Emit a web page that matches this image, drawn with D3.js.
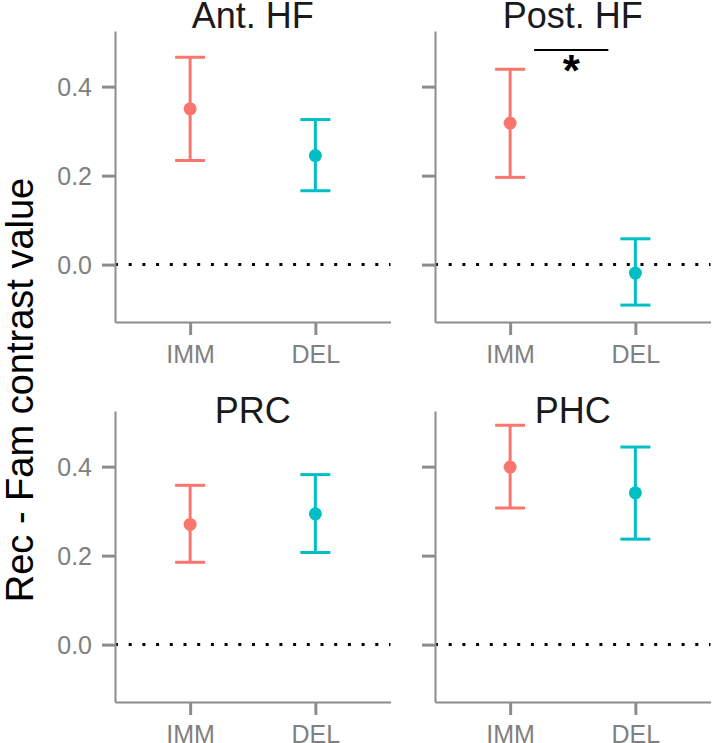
<!DOCTYPE html>
<html>
<head>
<meta charset="utf-8">
<script src="https://cdn.jsdelivr.net/npm/d3@7"></script>
<style>
  html, body { margin: 0; padding: 0; background: #fff; }
  svg { display: block; font-family: "Liberation Sans", Arial, Helvetica, sans-serif; }
</style>
</head>
<body>
<svg id="chart" width="712" height="743"></svg>
<script>
// ---- data ----
const panels = ["Ant. HF", "Post. HF", "PRC", "PHC"];
const groups = ["IMM", "DEL"];
const groupColors = ["#F8766D", "#00BFC4"];
const means = [[0.350, 0.245], [0.318, -0.019], [0.270, 0.294], [0.399, 0.341]];
const lowers = [[0.234, 0.166], [0.196, -0.091], [0.185, 0.207], [0.307, 0.237]];
const uppers = [[0.466, 0.326], [0.439, 0.058], [0.358, 0.382], [0.493, 0.444]];
const yTicks = [0.0, 0.2, 0.4];
const yDomain = [-0.129, 0.525];
const yLabel = "Rec - Fam contrast value";
const sigPanel = 1;
const sigMark = "*";

// ---- layout ----
const svg = d3.select("#chart");
const colX = [115, 435];
const rowY = [31, 411];
const pw = 275.5, ph = 291;
const grey = "#8c8c8c";

panels.forEach((name, i) => {
  const col = i % 2, row = Math.floor(i / 2);
  const g = svg.append("g").attr("transform", `translate(${colX[col]},${rowY[row]})`);
  const x = d3.scalePoint().domain(groups).range([0, pw]).padding(0.6);
  const y = d3.scaleLinear().domain(yDomain).range([ph, 0]);

  // zero reference dotted line
  g.append("line")
    .attr("x1", 0).attr("x2", pw)
    .attr("y1", y(0)).attr("y2", y(0))
    .attr("stroke", "#000").attr("stroke-width", 3)
    .attr("stroke-dasharray", "3,10.7");

  // y axis
  const ya = g.append("g").call(
    d3.axisLeft(y).tickValues(yTicks).tickSize(13).tickSizeOuter(0)
      .tickPadding(10)
      .tickFormat(col === 0 ? d3.format(".1f") : () => "")
  );
  // x axis
  const xa = g.append("g").attr("transform", `translate(0,${ph})`).call(
    d3.axisBottom(x).tickSize(13).tickSizeOuter(0).tickPadding(10)
  );
  [ya, xa].forEach(a => {
    a.select(".domain").attr("stroke", grey).attr("stroke-width", 2);
    a.selectAll(".tick line").attr("stroke", grey).attr("stroke-width", 3);
    a.selectAll(".tick text").attr("fill", "#808080").style("font-size", "25px")
      .style("font-family", "'Liberation Sans', Arial, sans-serif");
  });
  ya.selectAll(".tick text").attr("dy", "0.36em");
  xa.selectAll(".tick text").attr("y", 40.5).attr("dy", null);

  // error bars
  groups.forEach((grp, j) => {
    const cx = x(grp);
    const c = groupColors[j];
    g.append("line").attr("x1", cx).attr("x2", cx)
      .attr("y1", y(lowers[i][j])).attr("y2", y(uppers[i][j]))
      .attr("stroke", c).attr("stroke-width", 3);
    [lowers[i][j], uppers[i][j]].forEach(v => {
      g.append("line").attr("x1", cx - 15).attr("x2", cx + 15)
        .attr("y1", y(v)).attr("y2", y(v))
        .attr("stroke", c).attr("stroke-width", 3);
    });
    g.append("circle").attr("cx", cx).attr("cy", y(means[i][j])).attr("r", 6.5)
      .attr("fill", c);
  });

  // title
  g.append("text").attr("x", pw / 2).attr("y", row === 0 ? -3 : 12)
    .attr("text-anchor", "middle").attr("fill", "#1a1a1a")
    .style("font-size", "36px").text(name);

  // significance
  if (i === sigPanel) {
    const x1 = x("IMM") + 24, x2 = x("DEL") - 27;
    g.append("line").attr("x1", x1).attr("x2", x2).attr("y1", 19).attr("y2", 19)
      .attr("stroke", "#000").attr("stroke-width", 2);
    g.append("text").attr("x", (x1 + x2) / 2).attr("y", 55)
      .attr("text-anchor", "middle").attr("fill", "#000")
      .style("font-size", "44px").style("font-weight", "bold").text(sigMark);
  }
});

// y axis label
svg.append("text")
  .attr("transform", "translate(33,390) rotate(-90)")
  .attr("text-anchor", "middle").attr("fill", "#000")
  .style("font-size", "38px").text(yLabel);
</script>
</body>
</html>
